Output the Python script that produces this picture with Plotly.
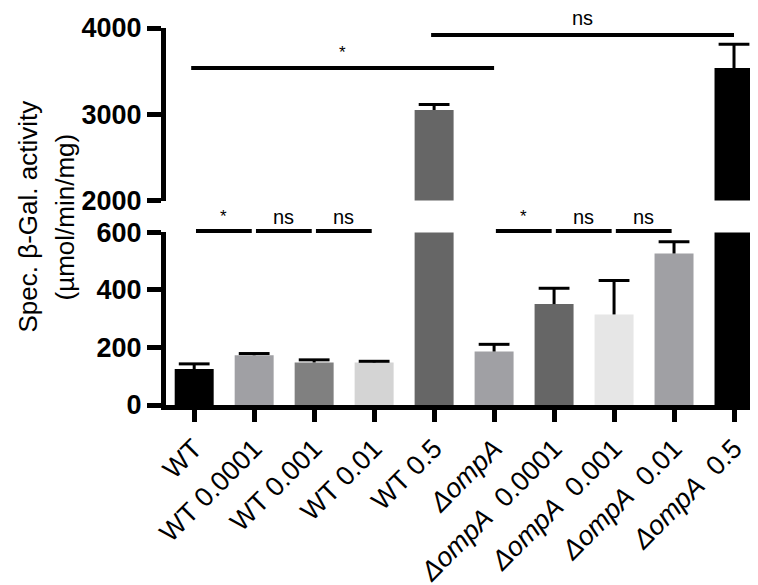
import plotly.graph_objects as go

categories = ["WT", "WT 0.0001", "WT 0.001", "WT 0.01", "WT 0.5",
              "dompA", "dompA 0.0001", "dompA 0.001", "dompA 0.01", "dompA 0.5"]
tick_labels = ["WT", "WT 0.0001", "WT 0.001", "WT 0.01", "WT 0.5",
               "<i>ΔompA</i>", "<i>ΔompA</i>\u00a0\u00a00.0001", "<i>ΔompA</i>\u00a0\u00a00.001",
               "<i>ΔompA</i>\u00a0\u00a00.01", "<i>ΔompA</i>\u00a0\u00a00.5"]
values = [125, 173, 148, 148, 3050, 186, 351, 315, 527, 3535]
errors = [18, 6, 9, 4, 62, 25, 55, 118, 41, 278]
colors = ["#000000", "#a0a0a4", "#808080", "#d4d4d4", "#666666",
          "#a0a0a4", "#666666", "#e6e6e6", "#a0a0a4", "#000000"]

# significance comparisons: (start category index, end category index, label, segment)
comparisons = [
    (0, 1, "*", "low"), (1, 2, "ns", "low"), (2, 3, "ns", "low"),
    (5, 6, "*", "low"), (6, 7, "ns", "low"), (7, 8, "ns", "low"),
    (0, 5, "*", "up1"), (4, 9, "ns", "up2"),
]

BREAK = 2000
FONT = "Arial, Liberation Sans, Helvetica, sans-serif"

fig = go.Figure()
upper_vals = [v if v >= BREAK else None for v in values]
for yax, vals in (("y", values), ("y2", upper_vals)):
    fig.add_trace(go.Bar(
        x=categories, y=vals, marker=dict(color=colors, line=dict(width=0)),
        xaxis="x", yaxis=yax, showlegend=False, hoverinfo="skip"))

# error bars (upper whisker only, GraphPad style)
for yax, big in (("y", False), ("y2", True)):
    sx, sy, cx, cy = [], [], [], []
    for c, v, e in zip(categories, values, errors):
        if (v >= BREAK) != big:
            continue
        sx += [c, c, None]
        sy += [v, v + e, None]
        cx.append(c)
        cy.append(v + e)
    fig.add_trace(go.Scatter(x=sx, y=sy, mode="lines", line=dict(color="black", width=3),
                             xaxis="x", yaxis=yax, showlegend=False, hoverinfo="skip"))
    fig.add_trace(go.Scatter(x=cx, y=cy, mode="markers",
                             marker=dict(symbol="line-ew", size=22, line=dict(color="black", width=3)),
                             xaxis="x", yaxis=yax, showlegend=False, hoverinfo="skip"))

axis_common = dict(showline=True, linewidth=5, linecolor="black", ticks="outside",
                   tickwidth=5, tickcolor="black", showgrid=False, zeroline=False)

fig.update_layout(
    width=758, height=585,
    margin=dict(l=158, r=2, t=20, b=188),
    paper_bgcolor="white", plot_bgcolor="white",
    bargap=0.35, hovermode=False, showlegend=False,
    font=dict(family=FONT, color="black"),
    xaxis=dict(type="category", range=[-0.47, 9.5], anchor="y", domain=[0, 1],
               tickvals=categories, ticktext=tick_labels, tickangle=-45, ticklen=12,
               tickfont=dict(size=27, family=FONT, color="black"), **axis_common),
    yaxis=dict(domain=[0, 0.4576], range=[0, 600], anchor="x",
               tickvals=[0, 200, 400, 600], ticklen=14,
               tickfont=dict(size=27, family=FONT, color="black", weight="bold"), **axis_common),
    yaxis2=dict(domain=[0.5424, 1], range=[BREAK, 4000], anchor="x",
                tickvals=[2000, 3000, 4000], ticklen=14,
                tickfont=dict(size=27, family=FONT, color="black", weight="bold"), **axis_common),
)

shapes = []
annotations = []
for a, b, lab, seg in comparisons:
    fsize = 20 if lab == "ns" else 17
    if seg == "low":
        x0, x1 = a + 0.03, b - 0.04
        shapes.append(dict(type="line", xref="x", yref="paper", x0=x0, x1=x1, y0=0.4615, y1=0.4615,
                           line=dict(color="black", width=4)))
        annotations.append(dict(x=(x0 + x1) / 2, y=0.4987, xref="x", yref="paper", text=lab,
                                showarrow=False, font=dict(size=fsize, family=FONT),
                                xanchor="center", yanchor="middle"))
    else:
        ly, ty = (3536, 0.9363) if seg == "up1" else (3919, 1.0265)
        x0, x1 = a - 0.05, b
        shapes.append(dict(type="line", xref="x", yref="y2", x0=x0, x1=x1, y0=ly, y1=ly,
                           line=dict(color="black", width=4)))
        annotations.append(dict(x=(x0 + x1) / 2, y=ty, xref="x", yref="paper", text=lab,
                                showarrow=False, font=dict(size=fsize, family=FONT),
                                xanchor="center", yanchor="middle"))

title_lines = ["Spec. β-Gal. activity", "(µmol/min/mg)"]
for xpos, line in zip([-0.2308, -0.1689], title_lines):
    annotations.append(dict(x=xpos, y=0.5, xref="paper", yref="paper",
                            text=line, textangle=-90,
                            showarrow=False, font=dict(size=26, family=FONT, color="black"),
                            xanchor="center", yanchor="middle", align="center"))

fig.update_layout(shapes=shapes, annotations=annotations)
fig.write_html("out.html")
